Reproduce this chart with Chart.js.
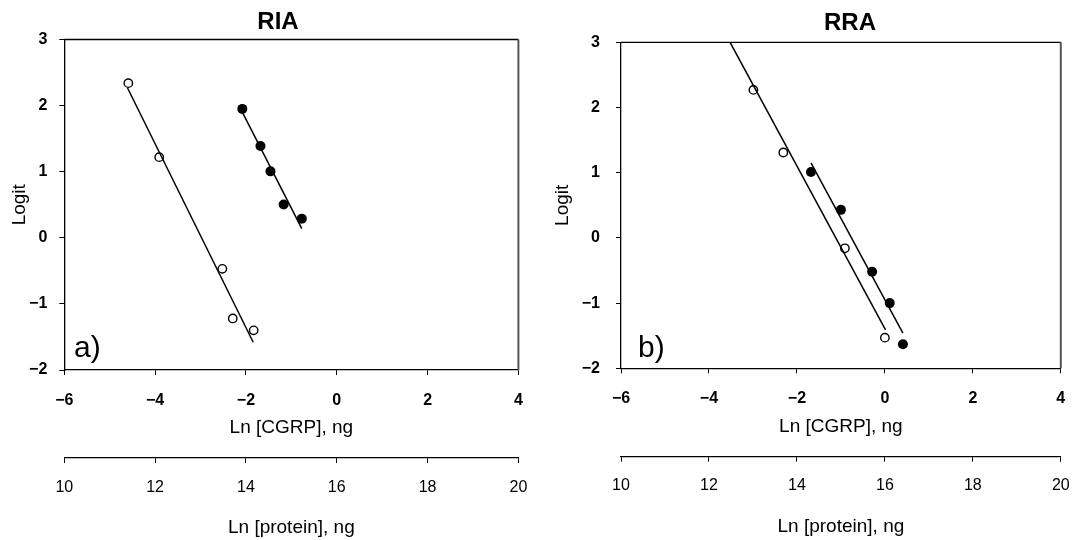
<!DOCTYPE html>
<html>
<head>
<meta charset="utf-8">
<script src="https://cdn.jsdelivr.net/npm/chart.js@4.4.1/dist/chart.umd.min.js"></script>
<style>
  body { margin: 0; background: #fff; }
  #wrap { display: flex; width: 1084px; height: 540px; }
  canvas { display: block; }
</style>
</head>
<body>
<div id="wrap">
  <canvas id="riaChart" width="542" height="540"></canvas>
  <canvas id="rraChart" width="542" height="540"></canvas>
</div>
<script>
// panel a) RIA
const riaOpenX = [-4.59, -3.91, -2.52, -2.29, -1.83];
const riaOpenY = [2.34, 1.22, -0.47, -1.22, -1.40];
const riaFilledX = [-2.08, -1.68, -1.46, -1.17, -0.77];
const riaFilledY = [1.95, 1.39, 1.005, 0.505, 0.29];
const riaOpenFitX = [-4.61, -1.84];
const riaOpenFitY = [2.27, -1.58];
const riaFilledFitX = [-2.08, -0.77];
const riaFilledFitY = [1.90, 0.14];

// panel b) RRA
const rraOpenX = [-2.99, -2.31, -0.91, 0.0];
const rraOpenY = [2.27, 1.31, -0.16, -1.53];
const rraFilledX = [-1.68, -1.0, -0.29, 0.11, 0.41];
const rraFilledY = [1.01, 0.43, -0.52, -1.0, -1.63];
const rraOpenFitX = [-3.52, 0.015];
const rraOpenFitY = [3.0, -1.41];
const rraFilledFitX = [-1.68, 0.41];
const rraFilledFitY = [1.15, -1.46];

// ticks
const cgrpTicks = [-6, -4, -2, 0, 2, 4];
const proteinTicks = [10, 12, 14, 16, 18, 20];
const logitTicks = [-2, -1, 0, 1, 2, 3];

const FONT = '"Liberation Sans", Arial, sans-serif';

const pts = (xs, ys) => xs.map((x, i) => ({ x, y: ys[i] }));
const fmt = v => v < 0 ? '\u2212' + Math.abs(v) : String(v);

// top/right frame, panel title and letter
const framePlugin = {
  id: 'frame',
  afterDraw(chart, args, opts) {
    const { ctx, chartArea: a } = chart;
    ctx.save();
    ctx.strokeStyle = '#000';
    ctx.lineWidth = 1.3;
    ctx.beginPath();
    ctx.moveTo(a.left, a.top);
    ctx.lineTo(a.right, a.top);
    ctx.stroke();
    ctx.strokeStyle = '#555';
    ctx.lineWidth = 2;
    ctx.beginPath();
    ctx.moveTo(a.right, a.top);
    ctx.lineTo(a.right, a.bottom);
    ctx.stroke();

    ctx.fillStyle = '#000';
    ctx.textAlign = 'center';
    ctx.textBaseline = 'middle';
    ctx.font = 'bold 24px ' + FONT;
    ctx.fillText(opts.title, opts.titleX, opts.titleY);
    ctx.textAlign = 'left';
    ctx.textBaseline = 'alphabetic';
    ctx.font = '30px ' + FONT;
    ctx.fillText(opts.letter, opts.letterX, opts.letterY);
    ctx.restore();
  }
};

function makeChart(id, d, c) {
  return new Chart(document.getElementById(id), {
    type: 'scatter',
    data: {
      datasets: [
        { data: pts(d.openFitX, d.openFitY), showLine: true, borderColor: '#000', borderWidth: 1.5, pointRadius: 0 },
        { data: pts(d.filledFitX, d.filledFitY), showLine: true, borderColor: '#000', borderWidth: 1.5, pointRadius: 0 },
        { data: pts(d.openX, d.openY), showLine: false, pointRadius: 4.2, pointBorderWidth: 1.4,
          pointBorderColor: '#000', pointBackgroundColor: '#fff' },
        { data: pts(d.filledX, d.filledY), showLine: false, pointRadius: 5, pointBorderWidth: 0,
          pointBorderColor: '#000', pointBackgroundColor: '#000' }
      ]
    },
    options: {
      responsive: false,
      animation: false,
      layout: { padding: { left: 0, right: c.padRight, top: c.padTop, bottom: 0 } },
      plugins: {
        legend: { display: false },
        tooltip: { enabled: false },
        frame: { title: c.title, titleX: c.titleX, titleY: c.titleY, letter: c.letter, letterX: c.letterX, letterY: c.letterY }
      },
      scales: {
        x: {
          type: 'linear', position: 'bottom', weight: 0,
          min: cgrpTicks[0], max: cgrpTicks[cgrpTicks.length - 1],
          afterBuildTicks: s => { s.ticks = cgrpTicks.map(v => ({ value: v })); },
          afterFit: s => { s.height = c.xHeight; },
          grid: { drawOnChartArea: false, drawTicks: true, tickLength: 5, color: '#000' },
          border: { color: '#000', width: 1.3 },
          ticks: { color: '#000', font: { family: FONT, size: 16, weight: 'bold' }, padding: c.xTickPad,
                   maxRotation: 0, autoSkip: false, callback: fmt },
          title: { display: true, text: 'Ln [CGRP], ng', color: '#000', font: { family: FONT, size: 19 },
                   padding: { top: 0, bottom: c.xTitlePad } }
        },
        x2: {
          type: 'linear', position: 'bottom', weight: 1,
          min: proteinTicks[0], max: proteinTicks[proteinTicks.length - 1],
          afterBuildTicks: s => { s.ticks = proteinTicks.map(v => ({ value: v })); },
          afterFit: s => { s.height = c.x2Height; },
          grid: { drawOnChartArea: false, drawTicks: true, tickLength: 5, color: '#000' },
          border: { color: '#000', width: 1.3 },
          ticks: { color: '#000', font: { family: FONT, size: 16 }, padding: c.x2TickPad,
                   maxRotation: 0, autoSkip: false },
          title: { display: true, text: 'Ln [protein], ng', color: '#000', font: { family: FONT, size: 19 },
                   padding: { top: 0, bottom: c.x2TitlePad } }
        },
        y: {
          type: 'linear', position: 'left',
          min: logitTicks[0], max: logitTicks[logitTicks.length - 1],
          afterBuildTicks: s => { s.ticks = logitTicks.map(v => ({ value: v })); },
          afterFit: s => { s.width = c.yWidth; },
          grid: { drawOnChartArea: false, drawTicks: true, tickLength: 5, color: '#000' },
          border: { color: '#000', width: 1.3 },
          ticks: { color: '#000', font: { family: FONT, size: 16, weight: 'bold' }, padding: c.yTickPad,
                   callback: fmt },
          title: { display: true, text: 'Logit', color: '#000', font: { family: FONT, size: 19 },
                   padding: { top: c.yTitlePad, bottom: 0 } }
        }
      }
    },
    plugins: [framePlugin]
  });
}

makeChart('riaChart',
  { openX: riaOpenX, openY: riaOpenY, filledX: riaFilledX, filledY: riaFilledY,
    openFitX: riaOpenFitX, openFitY: riaOpenFitY, filledFitX: riaFilledFitX, filledFitY: riaFilledFitY },
  { padRight: 20.3, padTop: 39.5, yWidth: 64.3, yTickPad: 12, yTitlePad: 8.5,
    xHeight: 88, xTickPad: 16, xTitlePad: 18.4, x2Height: 82, x2TickPad: 14.7, x2TitlePad: 0.6,
    title: 'RIA', titleX: 278, titleY: 22, letter: 'a)', letterX: 74, letterY: 357 });

makeChart('rraChart',
  { openX: rraOpenX, openY: rraOpenY, filledX: rraFilledX, filledY: rraFilledY,
    openFitX: rraOpenFitX, openFitY: rraOpenFitY, filledFitX: rraFilledFitX, filledFitY: rraFilledFitY },
  { padRight: 12.3, padTop: 42.3, yWidth: 79, yTickPad: 16, yTitlePad: 9.2,
    xHeight: 88.4, xTickPad: 15.7, xTitlePad: 18.3, x2Height: 83.3, x2TickPad: 14.3, x2TitlePad: 1.9,
    title: 'RRA', titleX: 308, titleY: 23, letter: 'b)', letterX: 96, letterY: 357 });
</script>
</body>
</html>
